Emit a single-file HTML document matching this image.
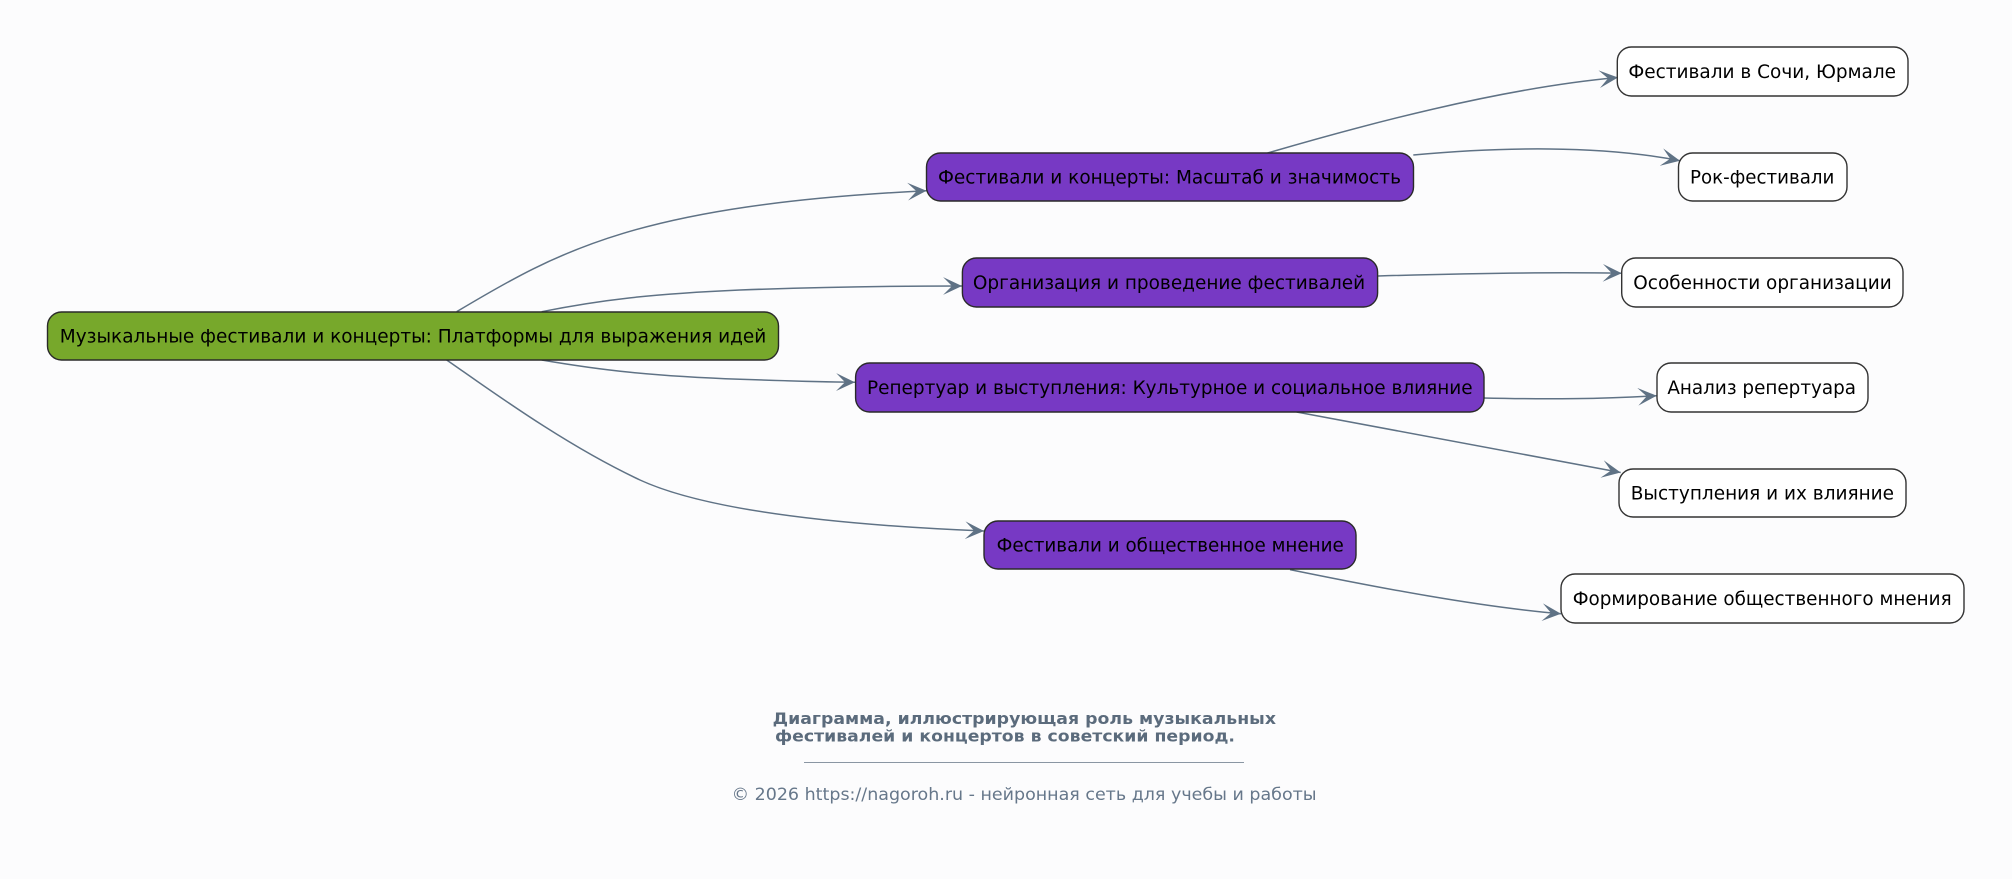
<!DOCTYPE html>
<html>
<head>
<meta charset="utf-8">
<style>
html,body{margin:0;padding:0;background:#fcfcfd;}
svg{display:block;}
text{font-family:"DejaVu Sans","Liberation Sans","Noto Sans CJK SC",sans-serif;}
</style>
</head>
<body>
<svg width="2012" height="879" viewBox="0 0 2012 879" xmlns="http://www.w3.org/2000/svg">
<defs>
<marker id="ah" markerUnits="userSpaceOnUse" markerWidth="20" markerHeight="18" refX="17" refY="8" orient="auto" viewBox="0 0 18 16">
<path d="M0,0 L17,8 L0,16 L8,8 Z" fill="#5f7285"/>
</marker>
</defs>
<rect x="0" y="0" width="2012" height="879" fill="#fcfcfd"/>

<!-- edges -->
<g fill="none" stroke="#5f7285" stroke-width="1.5" marker-end="url(#ah)">
<path d="M456.7,311.7 C560,250 640,205 926.5,190.7"/>
<path d="M541.7,311.7 C600,300 650,294 740,290 C820,287 900,286 962,286"/>
<path d="M541.7,360 C600,370 650,376 740,379.3 C790,381 830,382 855,382.3"/>
<path d="M446.7,360 C490,390 565,445 640,480 C690,503 790,523 984,531"/>
<path d="M1266.7,153.3 C1360,126 1500,88 1618,77.5"/>
<path d="M1413.3,155 C1500,147 1600,145 1680,160.7"/>
<path d="M1378,276 C1480,273 1560,272 1621.7,273.3"/>
<path d="M1483,398 C1550,399.5 1600,399 1656.7,395.7"/>
<path d="M1296.6,412 L1620.7,472.5"/>
<path d="M1290,569.6 C1380,588 1480,607 1561,613.8"/>
</g>

<!-- root -->
<rect x="47.5" y="312" width="731" height="48" rx="14" ry="14" fill="#77a82b" stroke="#2a2a2a" stroke-width="1.4"/>
<text x="413" y="342.3" font-size="18.5" text-anchor="middle" textLength="706.5" lengthAdjust="spacingAndGlyphs" fill="#000">Музыкальные фестивали и концерты: Платформы для выражения идей</text>

<!-- middle nodes -->
<g fill="#7739c4" stroke="#2a2a2a" stroke-width="1.4">
<rect x="926.5" y="153" width="487" height="48" rx="14" ry="14"/>
<rect x="962.4" y="258" width="415.2" height="49" rx="14" ry="14"/>
<rect x="855.6" y="363" width="628.4" height="49" rx="14" ry="14"/>
<rect x="984" y="521" width="372" height="48" rx="14" ry="14"/>
</g>
<g font-size="18.5" text-anchor="middle" fill="#000">
<text x="1169.5" y="183.3" textLength="463" lengthAdjust="spacingAndGlyphs">Фестивали и концерты: Масштаб и значимость</text>
<text x="1169" y="288.8" textLength="392.3" lengthAdjust="spacingAndGlyphs">Организация и проведение фестивалей</text>
<text x="1169.8" y="393.8" textLength="605.6" lengthAdjust="spacingAndGlyphs">Репертуар и выступления: Культурное и социальное влияние</text>
<text x="1170.2" y="551.3" textLength="347.2" lengthAdjust="spacingAndGlyphs">Фестивали и общественное мнение</text>
</g>

<!-- right nodes -->
<g fill="#ffffff" stroke="#333333" stroke-width="1.4">
<rect x="1617.3" y="47" width="290.7" height="49" rx="14" ry="14"/>
<rect x="1678.5" y="153" width="168.5" height="48" rx="14" ry="14"/>
<rect x="1621.7" y="258" width="281.3" height="49" rx="14" ry="14"/>
<rect x="1657" y="363" width="211" height="49" rx="14" ry="14"/>
<rect x="1619" y="469" width="287" height="48" rx="14" ry="14"/>
<rect x="1561" y="574" width="403" height="49" rx="14" ry="14"/>
</g>
<g font-size="18.5" text-anchor="middle" fill="#000">
<text x="1762.2" y="77.8" textLength="267.7" lengthAdjust="spacingAndGlyphs">Фестивали в Сочи, Юрмале</text>
<text x="1762.2" y="183.3" textLength="144.3" lengthAdjust="spacingAndGlyphs">Рок-фестивали</text>
<text x="1762.5" y="288.8" textLength="258.4" lengthAdjust="spacingAndGlyphs">Особенности организации</text>
<text x="1761.7" y="393.8" textLength="188.7" lengthAdjust="spacingAndGlyphs">Анализ репертуара</text>
<text x="1762.4" y="499.3" textLength="263.3" lengthAdjust="spacingAndGlyphs">Выступления и их влияние</text>
<text x="1762.2" y="604.8" textLength="379" lengthAdjust="spacingAndGlyphs">Формирование общественного мнения</text>
</g>

<!-- footer -->
<text x="772.7" y="724" font-size="16" font-weight="bold" fill="#5b6b7c" textLength="503.3" lengthAdjust="spacingAndGlyphs">Диаграмма, иллюстрирующая роль музыкальных</text>
<text x="775" y="741.7" font-size="16" font-weight="bold" fill="#5b6b7c" textLength="460" lengthAdjust="spacingAndGlyphs">фестивалей и концертов в советский период.</text>
<line x1="804" y1="762.5" x2="1244" y2="762.5" stroke="#8a96a3" stroke-width="1"/>
<text x="731.6" y="800" font-size="17" fill="#66778a" textLength="585" lengthAdjust="spacingAndGlyphs">© 2026 https://nagoroh.ru - нейронная сеть для учебы и работы</text>
</svg>
</body>
</html>
